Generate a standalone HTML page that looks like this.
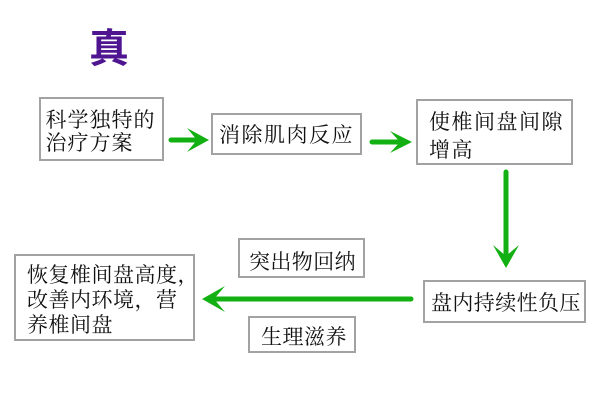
<!DOCTYPE html>
<html><head><meta charset="utf-8"><style>
html,body{margin:0;padding:0;background:#fff;}
svg{display:block;}
.t{font-family:"Liberation Serif","Noto Serif CJK SC",serif;font-size:21px;fill:#111;}
</style></head><body>
<svg width="600" height="400" viewBox="0 0 600 400" xmlns="http://www.w3.org/2000/svg">
<rect width="600" height="400" fill="#fff"/>
<text x="89" y="62" style="font-family:'Liberation Sans','Noto Sans CJK SC',sans-serif;font-size:40px;font-weight:bold;fill:#4f1590;">真</text>
<g fill="#fff" stroke="#a2a2a2" stroke-width="2">
<rect x="40" y="98" width="123" height="62"/>
<rect x="212" y="114" width="149" height="40"/>
<rect x="417" y="100" width="155" height="64"/>
<rect x="424" y="281" width="161" height="41"/>
<rect x="239" y="239" width="125" height="38"/>
<rect x="249" y="317" width="106" height="35"/>
<rect x="15" y="255" width="179" height="85"/>
</g>
<text class="t" x="45.5" y="127" letter-spacing="1">科学独特的</text>
<text class="t" x="45.5" y="150" letter-spacing="1">治疗方案</text>
<text class="t" x="219" y="142" letter-spacing="1.5">消除肌肉反应</text>
<text class="t" x="429" y="129" letter-spacing="1.5">使椎间盘间隙</text>
<text class="t" x="429" y="157" letter-spacing="1.5">增高</text>
<text class="t" x="431" y="310" letter-spacing="0.4">盘内持续性负压</text>
<text class="t" x="249" y="269" letter-spacing="0.4">突出物回纳</text>
<text class="t" x="261" y="344" letter-spacing="0.5">生理滋养</text>
<text class="t" x="27" y="282" letter-spacing="0.5">恢复椎间盘高度，</text>
<text class="t" x="27" y="307" letter-spacing="0.5">改善内环境，营</text>
<text class="t" x="27" y="332" letter-spacing="0.5">养椎间盘</text>
<g stroke="#12b012" stroke-width="5" stroke-linecap="round" fill="none">
<line x1="171" y1="140" x2="199" y2="140"/>
<line x1="372" y1="142" x2="402" y2="142"/>
<line x1="506" y1="172" x2="506" y2="256"/>
<line x1="411" y1="299" x2="214" y2="299"/>
</g>
<g fill="#12b012">
<polygon points="209,140 187,128 197,140 187,152"/>
<polygon points="412,142 390,131 400,142 390,153"/>
<polygon points="506,268 493,245 506,256 519,245"/>
<polygon points="202,299 225,286 214,299 225,312"/>
</g>
</svg>
</body></html>
